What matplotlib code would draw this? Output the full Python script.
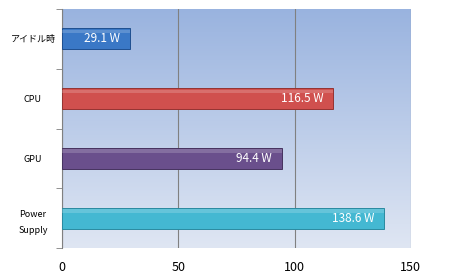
import numpy as np
import matplotlib.pyplot as plt
from matplotlib.colors import LinearSegmentedColormap

plt.rcParams['font.family'] = ['Noto Sans CJK JP', 'DejaVu Sans']

# Data
categories = ["アイドル時", "CPU", "GPU", "Power\nSupply"]
watts = [29.1, 116.5, 94.4, 138.6]
colors = ["#3a78c6", "#d0504e", "#6a4f8c", "#44b8d2"]
edges = ["#1f4f8f", "#953331", "#46335f", "#2a8aa0"]

fig = plt.figure(figsize=(4.5, 2.8), dpi=100)
ax = fig.add_axes([0.138, 0.114, 0.775, 0.854])

# gradient background
bg = LinearSegmentedColormap.from_list("bg", ["#dfe6f3", "#99b3df"])
grad = np.linspace(0, 1, 256).reshape(-1, 1)
ax.imshow(grad, cmap=bg, aspect='auto', extent=[0, 1, 0, 1],
          transform=ax.transAxes, origin='lower', zorder=0)

y = np.arange(len(categories))
ax.barh(y, watts, height=0.35, color=colors, edgecolor=edges, linewidth=0.7, zorder=3)
# highlight stripe
ax.barh(y - 0.12, watts, height=0.06, color='white', alpha=0.18, linewidth=0, zorder=4)

for yi, w in zip(y, watts):
    ax.annotate(f"{w} W", (w, yi), xytext=(-7, 0), textcoords='offset points',
                ha='right', va='center', color='white', fontsize=8.5, zorder=5)

ax.set_xlim(0, 150)
ax.set_ylim(3.5, -0.5)
ax.set_xticks([0, 50, 100, 150])
ax.tick_params(axis='x', length=0, labelsize=9, pad=9)
ax.set_yticks(y)
ax.set_yticklabels(categories, fontsize=6.5, ha='center', linespacing=2.0)
ax.tick_params(axis='y', which='major', length=0, pad=21)
ax.set_yticks([-0.5, 0.5, 1.5, 2.5, 3.5], minor=True)
ax.tick_params(axis='y', which='minor', length=4, color='#808080')
ax.xaxis.grid(True, color='#808080', linewidth=0.8, zorder=1)
ax.set_axisbelow(True)
for s in ['top', 'right', 'bottom']:
    ax.spines[s].set_visible(False)
ax.spines['left'].set_color('#808080')

fig.savefig("out.png", dpi=100)
